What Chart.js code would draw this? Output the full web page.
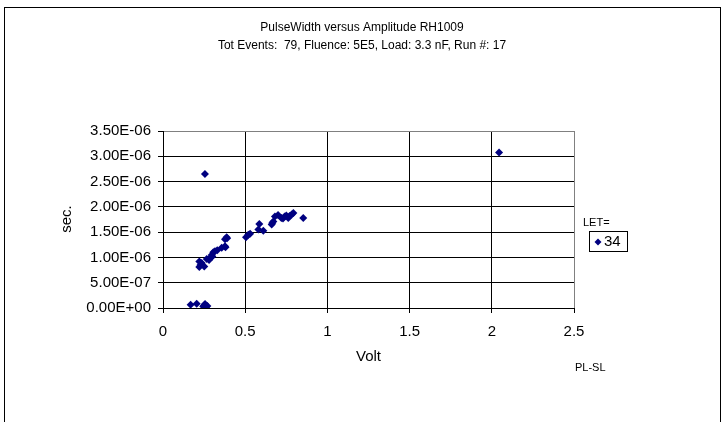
<!DOCTYPE html>
<html>
<head>
<meta charset="utf-8">
<script src="https://cdn.jsdelivr.net/npm/chart.js@4"></script>
<style>
  body { margin: 0; background: #fff; }
  canvas { display: block; }
</style>
</head>
<body>
<canvas id="chart" width="725" height="422"></canvas>
<script>
// Data (Volt, seconds)
const voltX = [
  0.168, 0.205, 0.249, 0.262, 0.256, 0.245, 0.270,
  0.255,
  0.221, 0.221, 0.251, 0.235, 0.228, 0.266, 0.286, 0.280, 0.296, 0.306,
  0.316, 0.330, 0.300, 0.357, 0.377, 0.387, 0.377, 0.390, 0.380,
  0.505, 0.519, 0.530, 0.580, 0.586, 0.610, 0.661, 0.671, 0.665, 0.681,
  0.700, 0.720, 0.740, 0.730, 0.762, 0.770, 0.783, 0.793, 0.750, 0.853,
  2.044
];
const pulseWidth = [
  0.065e-6, 0.085e-6, 0.05e-6, 0.02e-6, 0.08e-6, 0.03e-6, 0.04e-6,
  2.65e-6,
  0.92e-6, 0.81e-6, 0.82e-6, 0.89e-6, 0.85e-6, 0.97e-6, 0.99e-6, 0.95e-6, 1.05e-6, 1.10e-6,
  1.12e-6, 1.14e-6, 1.02e-6, 1.19e-6, 1.22e-6, 1.40e-6, 1.36e-6, 1.38e-6, 1.20e-6,
  1.40e-6, 1.45e-6, 1.47e-6, 1.55e-6, 1.66e-6, 1.53e-6, 1.65e-6, 1.71e-6, 1.68e-6, 1.81e-6,
  1.84e-6, 1.78e-6, 1.81e-6, 1.77e-6, 1.78e-6, 1.82e-6, 1.85e-6, 1.88e-6, 1.83e-6, 1.78e-6,
  3.075e-6
];
const seriesName = "34";
const legendTitle = "LET=";
const titleLines = [
  "PulseWidth versus Amplitude RH1009",
  "Tot Events:  79, Fluence: 5E5, Load: 3.3 nF, Run #: 17"
];

const FONT = "'Liberation Sans', Arial, sans-serif";
const NAVY = "#000080";

// Excel style 0.00E+00
function sci(v) {
  const parts = Number(v).toExponential(2).toUpperCase().split("E");
  const sign = parts[1][0] === "-" ? "-" : "+";
  const digits = parts[1].replace(/[+-]/, "").padStart(2, "0");
  return parts[0] + "E" + sign + digits;
}

const points = voltX.map((x, i) => ({ x: x, y: pulseWidth[i] }));

// Texts, frame and legend
const decor = {
  id: "decor",
  beforeDraw(chart) {
    const c = chart.ctx;
    c.save();
    c.fillStyle = "#fff";
    c.fillRect(0, 0, chart.width, chart.height);
    c.strokeStyle = "#000";
    c.lineWidth = 1;
    c.strokeRect(4.5, 7.5, 716, 430);
    c.restore();
  },
  afterDraw(chart) {
    const c = chart.ctx;
    const a = chart.chartArea;
    c.save();
    c.fillStyle = "#000";
    c.textAlign = "center";
    c.textBaseline = "middle";
    c.font = "12px " + FONT;
    c.fillText(titleLines[0], 362, 28);
    c.fillText(titleLines[1], 362, 46);

    c.font = "15px " + FONT;
    c.fillText("Volt", (a.left + a.right) / 2, 357);
    c.save();
    c.translate(67, 219);
    c.rotate(-Math.PI / 2);
    c.fillText("sec.", 0, 0);
    c.restore();

    c.font = "11px " + FONT;
    c.textAlign = "left";
    c.fillText("PL-SL", 575, 368);

    // legend
    c.font = "11px " + FONT;
    c.fillText(legendTitle, 583, 223);
    c.strokeStyle = "#000";
    c.lineWidth = 1;
    c.strokeRect(589.5, 231.5, 38, 20);
    c.fillStyle = NAVY;
    c.beginPath();
    c.moveTo(598, 238.5);
    c.lineTo(601.5, 242);
    c.lineTo(598, 245.5);
    c.lineTo(594.5, 242);
    c.closePath();
    c.fill();
    c.fillStyle = "#000";
    c.font = "15px " + FONT;
    c.fillText(seriesName, 604, 242);
    c.restore();
  }
};

const ctx = document.getElementById("chart").getContext("2d");
const chart = new Chart(ctx, {
  type: "scatter",
  data: {
    datasets: [
      {
        label: seriesName,
        data: points,
        pointStyle: "rectRot",
        pointRadius: 4,
        pointBackgroundColor: NAVY,
        pointBorderColor: NAVY,
        pointBorderWidth: 0,
      },
    ],
  },
  options: {
    responsive: false,
    animation: false,
    layout: { padding: { left: 0, top: 131, right: 151, bottom: 0 } },
    plugins: {
      legend: { display: false },
      title: { display: false },
      tooltip: { enabled: false },
    },
    scales: {
      x: {
        type: "linear",
        min: 0,
        max: 2.5,
        afterFit: (s) => { s.height = 114; },
        ticks: {
          stepSize: 0.5,
          color: "#000",
          padding: 10,
          font: { family: FONT, size: 15 },
          maxRotation: 0,
          callback: (v) => String(Number(v.toFixed(2))),
        },
        grid: {
          color: (c) => (c.tick && c.tick.value >= 2.49 ? "#808080" : "#000"),
          tickColor: "#000",
          tickLength: 5,
        },
        border: { color: "#000" },
      },
      y: {
        type: "linear",
        min: 0,
        max: 3.5e-6,
        afterFit: (s) => { s.width = 163; },
        ticks: {
          stepSize: 5e-7,
          color: "#000",
          padding: 7,
          font: { family: FONT, size: 15 },
          callback: (v) => sci(v),
        },
        grid: {
          color: (c) => (c.tick && c.tick.value >= 3.49e-6 ? "#808080" : "#000"),
          tickColor: "#000",
          tickLength: 5,
        },
        border: { color: "#000" },
      },
    },
  },
  plugins: [decor],
});
</script>
</body>
</html>
